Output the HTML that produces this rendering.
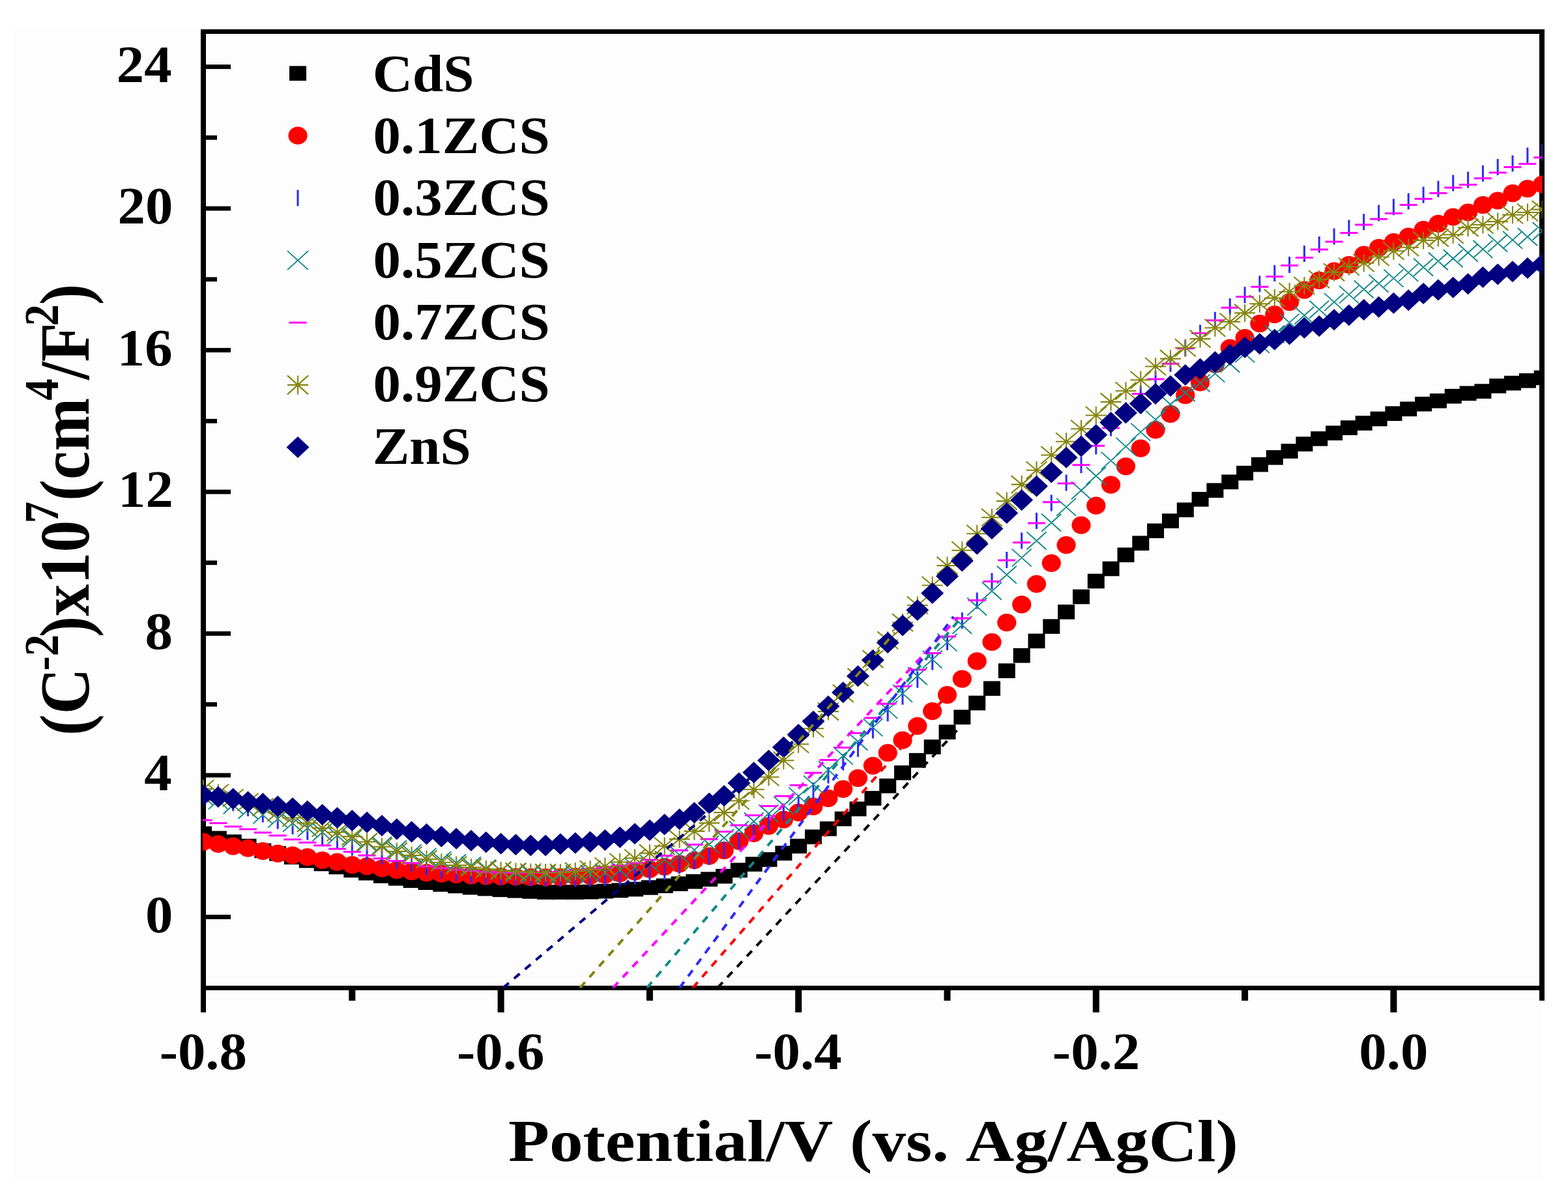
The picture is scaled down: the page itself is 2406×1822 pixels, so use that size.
<!DOCTYPE html>
<html><head><meta charset="utf-8"><title>Mott-Schottky plot</title>
<style>html,body{margin:0;padding:0;background:#fff;}svg{display:block;}text{font-family:'Liberation Serif','Times New Roman',serif;font-weight:bold;font-kerning:none}</style>
</head><body>
<svg xmlns="http://www.w3.org/2000/svg" width="2406" height="1822" viewBox="0 0 2406 1822">
<rect width="2406" height="1822" fill="#fff"/>
<rect x="20" y="44" width="2346" height="1766" fill="#fdfdfd"/>
<defs><clipPath id="pa"><rect x="311" y="48.5" width="2055.5" height="1468"/></clipPath></defs>

<g fill="#000">
<rect x="308" y="45" width="8" height="1509"/>
<rect x="2362" y="45" width="8" height="1491"/>
<rect x="308" y="45" width="2062" height="7"/>
<rect x="308" y="1513" width="2062" height="7"/>
<rect x="316" y="1404.1" width="38" height="6.8"/>
<rect x="316" y="1295.3" width="17" height="6.8"/>
<rect x="316" y="1186.6" width="38" height="6.8"/>
<rect x="316" y="1077.8" width="17" height="6.8"/>
<rect x="316" y="969.1" width="38" height="6.8"/>
<rect x="316" y="860.4" width="17" height="6.8"/>
<rect x="316" y="751.6" width="38" height="6.8"/>
<rect x="316" y="642.9" width="17" height="6.8"/>
<rect x="316" y="534.1" width="38" height="6.8"/>
<rect x="316" y="425.4" width="17" height="6.8"/>
<rect x="316" y="316.6" width="38" height="6.8"/>
<rect x="316" y="207.8" width="17" height="6.8"/>
<rect x="316" y="99.1" width="38" height="6.8"/>
<rect x="535.3" y="1520" width="10" height="16"/>
<rect x="763.6" y="1520" width="10" height="34"/>
<rect x="991.9" y="1520" width="10" height="16"/>
<rect x="1220.2" y="1520" width="10" height="34"/>
<rect x="1448.5" y="1520" width="10" height="16"/>
<rect x="1676.8" y="1520" width="10" height="34"/>
<rect x="1905.1" y="1520" width="10" height="16"/>
<rect x="2133.4" y="1520" width="10" height="34"/>
</g>
<g clip-path="url(#pa)">
<g fill="#000000"><rect x="299.0" y="1268.4" width="26.0" height="22.6"/><rect x="321.8" y="1275.5" width="26.0" height="22.6"/><rect x="344.7" y="1280.9" width="26.0" height="22.6"/><rect x="367.5" y="1287.5" width="26.0" height="22.6"/><rect x="390.3" y="1294.5" width="26.0" height="22.6"/><rect x="413.2" y="1298.9" width="26.0" height="22.6"/><rect x="436.0" y="1304.3" width="26.0" height="22.6"/><rect x="458.8" y="1309.7" width="26.0" height="22.6"/><rect x="481.6" y="1314.6" width="26.0" height="22.6"/><rect x="504.5" y="1319.5" width="26.0" height="22.6"/><rect x="527.3" y="1324.4" width="26.0" height="22.6"/><rect x="550.1" y="1328.8" width="26.0" height="22.6"/><rect x="573.0" y="1333.1" width="26.0" height="22.6"/><rect x="595.8" y="1336.9" width="26.0" height="22.6"/><rect x="618.6" y="1340.3" width="26.0" height="22.6"/><rect x="641.5" y="1343.4" width="26.0" height="22.6"/><rect x="664.3" y="1346.2" width="26.0" height="22.6"/><rect x="687.1" y="1348.6" width="26.0" height="22.6"/><rect x="709.9" y="1350.8" width="26.0" height="22.6"/><rect x="732.8" y="1352.7" width="26.0" height="22.6"/><rect x="755.6" y="1354.3" width="26.0" height="22.6"/><rect x="778.4" y="1355.8" width="26.0" height="22.6"/><rect x="801.3" y="1357.0" width="26.0" height="22.6"/><rect x="824.1" y="1358.1" width="26.0" height="22.6"/><rect x="846.9" y="1358.1" width="26.0" height="22.6"/><rect x="869.8" y="1358.1" width="26.0" height="22.6"/><rect x="892.6" y="1357.7" width="26.0" height="22.6"/><rect x="915.4" y="1356.7" width="26.0" height="22.6"/><rect x="938.2" y="1355.4" width="26.0" height="22.6"/><rect x="961.1" y="1353.6" width="26.0" height="22.6"/><rect x="983.9" y="1351.1" width="26.0" height="22.6"/><rect x="1006.7" y="1348.4" width="26.0" height="22.6"/><rect x="1029.6" y="1345.3" width="26.0" height="22.6"/><rect x="1052.4" y="1341.8" width="26.0" height="22.6"/><rect x="1075.2" y="1338.3" width="26.0" height="22.6"/><rect x="1098.1" y="1333.7" width="26.0" height="22.6"/><rect x="1120.9" y="1324.4" width="26.0" height="22.6"/><rect x="1143.7" y="1315.2" width="26.0" height="22.6"/><rect x="1166.5" y="1308.1" width="26.0" height="22.6"/><rect x="1189.4" y="1298.3" width="26.0" height="22.6"/><rect x="1212.2" y="1287.5" width="26.0" height="22.6"/><rect x="1235.0" y="1273.3" width="26.0" height="22.6"/><rect x="1257.9" y="1260.8" width="26.0" height="22.6"/><rect x="1280.7" y="1245.6" width="26.0" height="22.6"/><rect x="1303.5" y="1230.4" width="26.0" height="22.6"/><rect x="1326.4" y="1214.0" width="26.0" height="22.6"/><rect x="1349.2" y="1195.0" width="26.0" height="22.6"/><rect x="1372.0" y="1174.9" width="26.0" height="22.6"/><rect x="1394.8" y="1155.9" width="26.0" height="22.6"/><rect x="1417.7" y="1135.2" width="26.0" height="22.6"/><rect x="1440.5" y="1112.4" width="26.0" height="22.6"/><rect x="1463.3" y="1089.5" width="26.0" height="22.6"/><rect x="1486.2" y="1067.8" width="26.0" height="22.6"/><rect x="1509.0" y="1045.5" width="26.0" height="22.6"/><rect x="1531.8" y="1018.3" width="26.0" height="22.6"/><rect x="1554.7" y="994.9" width="26.0" height="22.6"/><rect x="1577.5" y="972.6" width="26.0" height="22.6"/><rect x="1600.3" y="950.3" width="26.0" height="22.6"/><rect x="1623.1" y="928.0" width="26.0" height="22.6"/><rect x="1646.0" y="904.7" width="26.0" height="22.6"/><rect x="1668.8" y="880.7" width="26.0" height="22.6"/><rect x="1691.6" y="861.7" width="26.0" height="22.6"/><rect x="1714.5" y="840.5" width="26.0" height="22.6"/><rect x="1737.3" y="822.5" width="26.0" height="22.6"/><rect x="1760.1" y="803.5" width="26.0" height="22.6"/><rect x="1783.0" y="788.3" width="26.0" height="22.6"/><rect x="1805.8" y="771.4" width="26.0" height="22.6"/><rect x="1828.6" y="755.1" width="26.0" height="22.6"/><rect x="1851.4" y="741.5" width="26.0" height="22.6"/><rect x="1874.3" y="728.5" width="26.0" height="22.6"/><rect x="1897.1" y="714.9" width="26.0" height="22.6"/><rect x="1919.9" y="701.8" width="26.0" height="22.6"/><rect x="1942.8" y="691.0" width="26.0" height="22.6"/><rect x="1965.6" y="681.2" width="26.0" height="22.6"/><rect x="1988.4" y="670.3" width="26.0" height="22.6"/><rect x="2011.2" y="662.1" width="26.0" height="22.6"/><rect x="2034.1" y="653.4" width="26.0" height="22.6"/><rect x="2056.9" y="645.3" width="26.0" height="22.6"/><rect x="2079.7" y="638.2" width="26.0" height="22.6"/><rect x="2102.6" y="631.7" width="26.0" height="22.6"/><rect x="2125.4" y="623.5" width="26.0" height="22.6"/><rect x="2148.2" y="616.5" width="26.0" height="22.6"/><rect x="2171.1" y="608.9" width="26.0" height="22.6"/><rect x="2193.9" y="604.0" width="26.0" height="22.6"/><rect x="2216.7" y="596.9" width="26.0" height="22.6"/><rect x="2239.6" y="592.5" width="26.0" height="22.6"/><rect x="2262.4" y="589.3" width="26.0" height="22.6"/><rect x="2285.2" y="581.1" width="26.0" height="22.6"/><rect x="2308.0" y="576.8" width="26.0" height="22.6"/><rect x="2330.9" y="573.0" width="26.0" height="22.6"/><rect x="2353.7" y="568.6" width="26.0" height="22.6"/></g>
<g fill="#ff0000"><ellipse cx="312.0" cy="1292.2" rx="14.6" ry="13.6"/><ellipse cx="334.8" cy="1295.5" rx="14.6" ry="13.6"/><ellipse cx="357.7" cy="1298.8" rx="14.6" ry="13.6"/><ellipse cx="380.5" cy="1302.0" rx="14.6" ry="13.6"/><ellipse cx="403.3" cy="1306.4" rx="14.6" ry="13.6"/><ellipse cx="426.2" cy="1310.2" rx="14.6" ry="13.6"/><ellipse cx="449.0" cy="1312.9" rx="14.6" ry="13.6"/><ellipse cx="471.8" cy="1315.6" rx="14.6" ry="13.6"/><ellipse cx="494.6" cy="1320.5" rx="14.6" ry="13.6"/><ellipse cx="517.5" cy="1323.2" rx="14.6" ry="13.6"/><ellipse cx="540.3" cy="1327.6" rx="14.6" ry="13.6"/><ellipse cx="563.1" cy="1329.7" rx="14.6" ry="13.6"/><ellipse cx="586.0" cy="1333.0" rx="14.6" ry="13.6"/><ellipse cx="608.8" cy="1335.5" rx="14.6" ry="13.6"/><ellipse cx="631.6" cy="1337.7" rx="14.6" ry="13.6"/><ellipse cx="654.5" cy="1339.6" rx="14.6" ry="13.6"/><ellipse cx="677.3" cy="1341.2" rx="14.6" ry="13.6"/><ellipse cx="700.1" cy="1342.5" rx="14.6" ry="13.6"/><ellipse cx="722.9" cy="1343.8" rx="14.6" ry="13.6"/><ellipse cx="745.8" cy="1344.8" rx="14.6" ry="13.6"/><ellipse cx="768.6" cy="1345.5" rx="14.6" ry="13.6"/><ellipse cx="791.4" cy="1346.0" rx="14.6" ry="13.6"/><ellipse cx="814.3" cy="1346.4" rx="14.6" ry="13.6"/><ellipse cx="837.1" cy="1346.6" rx="14.6" ry="13.6"/><ellipse cx="859.9" cy="1346.3" rx="14.6" ry="13.6"/><ellipse cx="882.8" cy="1345.5" rx="14.6" ry="13.6"/><ellipse cx="905.6" cy="1344.4" rx="14.6" ry="13.6"/><ellipse cx="928.4" cy="1342.9" rx="14.6" ry="13.6"/><ellipse cx="951.2" cy="1340.6" rx="14.6" ry="13.6"/><ellipse cx="974.1" cy="1337.8" rx="14.6" ry="13.6"/><ellipse cx="996.9" cy="1334.2" rx="14.6" ry="13.6"/><ellipse cx="1019.7" cy="1330.3" rx="14.6" ry="13.6"/><ellipse cx="1042.6" cy="1325.9" rx="14.6" ry="13.6"/><ellipse cx="1065.4" cy="1320.5" rx="14.6" ry="13.6"/><ellipse cx="1088.2" cy="1314.0" rx="14.6" ry="13.6"/><ellipse cx="1111.1" cy="1305.3" rx="14.6" ry="13.6"/><ellipse cx="1133.9" cy="1291.1" rx="14.6" ry="13.6"/><ellipse cx="1156.7" cy="1279.2" rx="14.6" ry="13.6"/><ellipse cx="1179.5" cy="1267.8" rx="14.6" ry="13.6"/><ellipse cx="1202.4" cy="1258.0" rx="14.6" ry="13.6"/><ellipse cx="1225.2" cy="1247.1" rx="14.6" ry="13.6"/><ellipse cx="1248.0" cy="1237.8" rx="14.6" ry="13.6"/><ellipse cx="1270.9" cy="1225.3" rx="14.6" ry="13.6"/><ellipse cx="1293.7" cy="1211.2" rx="14.6" ry="13.6"/><ellipse cx="1316.5" cy="1194.3" rx="14.6" ry="13.6"/><ellipse cx="1339.4" cy="1175.3" rx="14.6" ry="13.6"/><ellipse cx="1362.2" cy="1155.7" rx="14.6" ry="13.6"/><ellipse cx="1385.0" cy="1136.2" rx="14.6" ry="13.6"/><ellipse cx="1407.8" cy="1114.4" rx="14.6" ry="13.6"/><ellipse cx="1430.7" cy="1091.6" rx="14.6" ry="13.6"/><ellipse cx="1453.5" cy="1066.6" rx="14.6" ry="13.6"/><ellipse cx="1476.3" cy="1042.1" rx="14.6" ry="13.6"/><ellipse cx="1499.2" cy="1014.9" rx="14.6" ry="13.6"/><ellipse cx="1522.0" cy="985.5" rx="14.6" ry="13.6"/><ellipse cx="1544.8" cy="955.6" rx="14.6" ry="13.6"/><ellipse cx="1567.7" cy="927.9" rx="14.6" ry="13.6"/><ellipse cx="1590.5" cy="896.4" rx="14.6" ry="13.6"/><ellipse cx="1613.3" cy="864.3" rx="14.6" ry="13.6"/><ellipse cx="1636.1" cy="836.6" rx="14.6" ry="13.6"/><ellipse cx="1659.0" cy="806.1" rx="14.6" ry="13.6"/><ellipse cx="1681.8" cy="776.2" rx="14.6" ry="13.6"/><ellipse cx="1704.6" cy="744.1" rx="14.6" ry="13.6"/><ellipse cx="1727.5" cy="715.8" rx="14.6" ry="13.6"/><ellipse cx="1750.3" cy="688.1" rx="14.6" ry="13.6"/><ellipse cx="1773.1" cy="659.8" rx="14.6" ry="13.6"/><ellipse cx="1796.0" cy="635.4" rx="14.6" ry="13.6"/><ellipse cx="1818.8" cy="606.6" rx="14.6" ry="13.6"/><ellipse cx="1841.6" cy="587.0" rx="14.6" ry="13.6"/><ellipse cx="1864.4" cy="559.2" rx="14.6" ry="13.6"/><ellipse cx="1887.3" cy="534.2" rx="14.6" ry="13.6"/><ellipse cx="1910.1" cy="518.5" rx="14.6" ry="13.6"/><ellipse cx="1932.9" cy="496.7" rx="14.6" ry="13.6"/><ellipse cx="1955.8" cy="482.6" rx="14.6" ry="13.6"/><ellipse cx="1978.6" cy="463.6" rx="14.6" ry="13.6"/><ellipse cx="2001.4" cy="445.1" rx="14.6" ry="13.6"/><ellipse cx="2024.2" cy="430.4" rx="14.6" ry="13.6"/><ellipse cx="2047.1" cy="416.2" rx="14.6" ry="13.6"/><ellipse cx="2069.9" cy="406.5" rx="14.6" ry="13.6"/><ellipse cx="2092.7" cy="391.2" rx="14.6" ry="13.6"/><ellipse cx="2115.6" cy="380.4" rx="14.6" ry="13.6"/><ellipse cx="2138.4" cy="371.7" rx="14.6" ry="13.6"/><ellipse cx="2161.2" cy="363.0" rx="14.6" ry="13.6"/><ellipse cx="2184.1" cy="352.6" rx="14.6" ry="13.6"/><ellipse cx="2206.9" cy="343.4" rx="14.6" ry="13.6"/><ellipse cx="2229.7" cy="333.0" rx="14.6" ry="13.6"/><ellipse cx="2252.6" cy="326.0" rx="14.6" ry="13.6"/><ellipse cx="2275.4" cy="314.6" rx="14.6" ry="13.6"/><ellipse cx="2298.2" cy="308.0" rx="14.6" ry="13.6"/><ellipse cx="2321.0" cy="296.6" rx="14.6" ry="13.6"/><ellipse cx="2343.9" cy="289.6" rx="14.6" ry="13.6"/><ellipse cx="2366.7" cy="283.0" rx="14.6" ry="13.6"/></g>
<path fill="none" stroke="#2a2aff" stroke-width="3" d="M312.0 1207.4v25.0M334.8 1212.8v25.0M357.7 1219.9v25.0M380.5 1228.1v25.0M403.3 1237.3v25.0M426.2 1247.6v25.0M449.0 1255.8v25.0M471.8 1264.5v25.0M494.6 1272.1v25.0M517.5 1278.1v25.0M540.3 1288.4v25.0M563.1 1295.5v25.0M586.0 1302.0v25.0M608.8 1308.5v25.0M631.6 1312.9v25.0M654.5 1318.3v25.0M677.3 1323.2v25.0M700.1 1327.6v25.0M722.9 1330.8v25.0M745.8 1332.5v25.0M768.6 1333.6v25.0M791.4 1334.5v25.0M814.3 1335.2v25.0M837.1 1335.7v25.0M859.9 1336.1v25.0M882.8 1336.3v25.0M905.6 1335.9v25.0M928.4 1335.1v25.0M951.2 1334.1v25.0M974.1 1332.5v25.0M996.9 1329.7v25.0M1019.7 1325.4v25.0M1042.6 1316.2v25.0M1065.4 1309.5v25.0M1088.2 1302.6v25.0M1111.1 1291.7v25.0M1133.9 1278.7v25.0M1156.7 1264.5v25.0M1179.5 1249.6v25.0M1202.4 1234.6v25.0M1225.2 1220.5v25.0M1248.0 1200.9v25.0M1270.9 1177.5v25.0M1293.7 1157.4v25.0M1316.5 1136.7v25.0M1339.4 1108.4v25.0M1362.2 1082.3v25.0M1385.0 1056.8v25.0M1407.8 1030.7v25.0M1430.7 1003.5v25.0M1453.5 973.0v25.0M1476.3 939.9v25.0M1499.2 909.4v25.0M1522.0 879.5v25.0M1544.8 846.9v25.0M1567.7 817.5v25.0M1590.5 787.1v25.0M1613.3 759.4v25.0M1636.1 728.4v25.0M1659.0 701.2v25.0M1681.8 672.4v25.0M1704.6 644.6v25.0M1727.5 617.4v25.0M1750.3 591.9v25.0M1773.1 569.6v25.0M1796.0 545.7v25.0M1818.8 522.3v25.0M1841.6 498.4v25.0M1864.4 478.8v25.0M1887.3 458.1v25.0M1910.1 440.2v25.0M1932.9 423.3v25.0M1955.8 407.0v25.0M1978.6 394.0v25.0M2001.4 377.1v25.0M2024.2 363.0v25.0M2047.1 350.5v25.0M2069.9 337.4v25.0M2092.7 328.2v25.0M2115.6 314.6v25.0M2138.4 305.3v25.0M2161.2 296.6v25.0M2184.1 286.8v25.0M2206.9 277.6v25.0M2229.7 268.4v25.0M2252.6 263.5v25.0M2275.4 253.7v25.0M2298.2 243.9v25.0M2321.0 238.4v25.0M2343.9 226.5v25.0M2366.7 221.6v25.0"/>
<path fill="none" stroke="#118888" stroke-width="1.9" d="M297.0 1209.1l30 27M297.0 1236.1l30 -27M319.8 1215.1l30 27M319.8 1242.1l30 -27M342.7 1222.2l30 27M342.7 1249.2l30 -27M365.5 1229.8l30 27M365.5 1256.8l30 -27M388.3 1237.4l30 27M388.3 1264.4l30 -27M411.2 1243.4l30 27M411.2 1270.4l30 -27M434.0 1249.9l30 27M434.0 1276.9l30 -27M456.8 1257.5l30 27M456.8 1284.5l30 -27M479.6 1264.0l30 27M479.6 1291.0l30 -27M502.5 1268.9l30 27M502.5 1295.9l30 -27M525.3 1273.8l30 27M525.3 1300.8l30 -27M548.1 1279.8l30 27M548.1 1306.8l30 -27M571.0 1284.2l30 27M571.0 1311.2l30 -27M593.8 1290.0l30 27M593.8 1317.0l30 -27M616.6 1296.1l30 27M616.6 1323.1l30 -27M639.5 1301.8l30 27M639.5 1328.8l30 -27M662.3 1307.0l30 27M662.3 1334.0l30 -27M685.1 1311.2l30 27M685.1 1338.2l30 -27M707.9 1315.2l30 27M707.9 1342.2l30 -27M730.8 1319.5l30 27M730.8 1346.5l30 -27M753.6 1323.3l30 27M753.6 1350.3l30 -27M776.4 1326.0l30 27M776.4 1353.0l30 -27M799.3 1327.7l30 27M799.3 1354.7l30 -27M822.1 1328.4l30 27M822.1 1355.4l30 -27M844.9 1328.8l30 27M844.9 1355.8l30 -27M867.8 1328.4l30 27M867.8 1355.4l30 -27M890.6 1327.7l30 27M890.6 1354.7l30 -27M913.4 1325.6l30 27M913.4 1352.6l30 -27M936.2 1322.2l30 27M936.2 1349.2l30 -27M959.1 1317.9l30 27M959.1 1344.9l30 -27M981.9 1312.4l30 27M981.9 1339.4l30 -27M1004.7 1306.1l30 27M1004.7 1333.1l30 -27M1027.6 1298.8l30 27M1027.6 1325.8l30 -27M1050.4 1291.1l30 27M1050.4 1318.1l30 -27M1073.2 1282.5l30 27M1073.2 1309.5l30 -27M1096.1 1272.7l30 27M1096.1 1299.7l30 -27M1118.9 1260.2l30 27M1118.9 1287.2l30 -27M1141.7 1247.2l30 27M1141.7 1274.2l30 -27M1164.5 1235.2l30 27M1164.5 1262.2l30 -27M1187.4 1222.7l30 27M1187.4 1249.7l30 -27M1210.2 1208.6l30 27M1210.2 1235.6l30 -27M1233.0 1190.6l30 27M1233.0 1217.6l30 -27M1255.9 1168.3l30 27M1255.9 1195.3l30 -27M1278.7 1146.6l30 27M1278.7 1173.6l30 -27M1301.5 1124.8l30 27M1301.5 1151.8l30 -27M1324.4 1103.1l30 27M1324.4 1130.1l30 -27M1347.2 1075.9l30 27M1347.2 1102.9l30 -27M1370.0 1050.9l30 27M1370.0 1077.9l30 -27M1392.8 1024.2l30 27M1392.8 1051.2l30 -27M1415.7 998.7l30 27M1415.7 1025.7l30 -27M1438.5 972.6l30 27M1438.5 999.6l30 -27M1461.3 946.0l30 27M1461.3 973.0l30 -27M1484.2 917.7l30 27M1484.2 944.7l30 -27M1507.0 893.8l30 27M1507.0 920.8l30 -27M1529.8 868.7l30 27M1529.8 895.7l30 -27M1552.7 842.6l30 27M1552.7 869.6l30 -27M1575.5 816.5l30 27M1575.5 843.5l30 -27M1598.3 788.8l30 27M1598.3 815.8l30 -27M1621.1 764.9l30 27M1621.1 791.9l30 -27M1644.0 739.3l30 27M1644.0 766.3l30 -27M1666.8 717.0l30 27M1666.8 744.0l30 -27M1689.6 693.6l30 27M1689.6 720.6l30 -27M1712.5 671.9l30 27M1712.5 698.9l30 -27M1735.3 649.6l30 27M1735.3 676.6l30 -27M1758.1 630.6l30 27M1758.1 657.6l30 -27M1781.0 607.2l30 27M1781.0 634.2l30 -27M1803.8 589.2l30 27M1803.8 616.2l30 -27M1826.6 574.6l30 27M1826.6 601.6l30 -27M1849.4 559.9l30 27M1849.4 586.9l30 -27M1872.3 544.7l30 27M1872.3 571.7l30 -27M1895.1 529.4l30 27M1895.1 556.4l30 -27M1917.9 514.8l30 27M1917.9 541.8l30 -27M1940.8 499.5l30 27M1940.8 526.5l30 -27M1963.6 481.6l30 27M1963.6 508.6l30 -27M1986.4 470.7l30 27M1986.4 497.7l30 -27M2009.2 461.5l30 27M2009.2 488.5l30 -27M2032.1 450.1l30 27M2032.1 477.1l30 -27M2054.9 438.6l30 27M2054.9 465.6l30 -27M2077.7 430.5l30 27M2077.7 457.5l30 -27M2100.6 421.8l30 27M2100.6 448.8l30 -27M2123.4 413.6l30 27M2123.4 440.6l30 -27M2146.2 404.9l30 27M2146.2 431.9l30 -27M2169.1 396.8l30 27M2169.1 423.8l30 -27M2191.9 387.5l30 27M2191.9 414.5l30 -27M2214.7 383.2l30 27M2214.7 410.2l30 -27M2237.6 374.5l30 27M2237.6 401.5l30 -27M2260.4 369.0l30 27M2260.4 396.0l30 -27M2283.2 359.8l30 27M2283.2 386.8l30 -27M2306.0 354.9l30 27M2306.0 381.9l30 -27M2328.9 350.0l30 27M2328.9 377.0l30 -27M2351.7 341.3l30 27M2351.7 368.3l30 -27"/>
<path fill="none" stroke="#ff00ff" stroke-width="3" d="M298.5 1259.1h27.0M321.3 1263.4h27.0M344.2 1268.8h27.0M367.0 1272.7h27.0M389.8 1278.1h27.0M412.7 1282.4h27.0M435.5 1288.4h27.0M458.3 1293.3h27.0M481.1 1297.7h27.0M504.0 1303.1h27.0M526.8 1307.5h27.0M549.6 1312.9h27.0M572.5 1317.8h27.0M595.3 1321.6h27.0M618.1 1324.8h27.0M641.0 1329.7h27.0M663.8 1332.5h27.0M686.6 1334.8h27.0M709.4 1336.8h27.0M732.3 1338.6h27.0M755.1 1339.5h27.0M777.9 1339.5h27.0M800.8 1339.5h27.0M823.6 1339.5h27.0M846.4 1338.6h27.0M869.2 1336.5h27.0M892.1 1334.1h27.0M914.9 1331.6h27.0M937.7 1328.6h27.0M960.6 1324.8h27.0M983.4 1319.8h27.0M1006.2 1313.4h27.0M1029.1 1305.3h27.0M1051.9 1296.6h27.0M1074.7 1287.9h27.0M1097.6 1276.5h27.0M1120.4 1266.7h27.0M1143.2 1251.4h27.0M1166.0 1237.3h27.0M1188.9 1222.1h27.0M1211.7 1205.2h27.0M1234.5 1186.2h27.0M1257.4 1166.6h27.0M1280.2 1147.6h27.0M1303.0 1125.3h27.0M1325.9 1101.9h27.0M1348.7 1080.2h27.0M1371.5 1053.5h27.0M1394.3 1028.0h27.0M1417.2 1002.4h27.0M1440.0 976.9h27.0M1462.8 949.1h27.0M1485.7 921.4h27.0M1508.5 892.6h27.0M1531.3 859.9h27.0M1554.2 832.8h27.0M1577.0 802.9h27.0M1599.8 770.8h27.0M1622.6 741.9h27.0M1645.5 713.7h27.0M1668.3 684.3h27.0M1691.1 657.1h27.0M1714.0 629.9h27.0M1736.8 604.4h27.0M1759.6 582.1h27.0M1782.5 558.2h27.0M1805.3 534.8h27.0M1828.1 511.4h27.0M1850.9 491.8h27.0M1873.8 472.2h27.0M1896.6 455.4h27.0M1919.4 440.2h27.0M1942.3 424.4h27.0M1965.1 407.5h27.0M1987.9 395.6h27.0M2010.8 383.1h27.0M2033.6 371.1h27.0M2056.4 357.5h27.0M2079.2 345.0h27.0M2102.1 336.3h27.0M2124.9 327.6h27.0M2147.7 314.6h27.0M2170.6 305.3h27.0M2193.4 296.6h27.0M2216.2 287.9h27.0M2239.1 283.6h27.0M2261.9 273.8h27.0M2284.7 265.1h27.0M2307.5 256.4h27.0M2330.4 251.5h27.0M2353.2 241.7h27.0"/>
<path fill="none" stroke="#858510" stroke-width="2.1" d="M296.0 1210.7h32M312.0 1197.2v27M296.0 1197.2l32 27M296.0 1224.2l32 -27M318.8 1217.2h32M334.8 1203.7v27M318.8 1203.7l32 27M318.8 1230.7l32 -27M341.7 1224.8h32M357.7 1211.3v27M341.7 1211.3l32 27M341.7 1238.3l32 -27M364.5 1231.3h32M380.5 1217.8v27M364.5 1217.8l32 27M364.5 1244.8l32 -27M387.3 1238.9h32M403.3 1225.4v27M387.3 1225.4l32 27M387.3 1252.4l32 -27M410.2 1247.1h32M426.2 1233.6v27M410.2 1233.6l32 27M410.2 1260.6l32 -27M433.0 1255.2h32M449.0 1241.8v27M433.0 1241.8l32 27M433.0 1268.8l32 -27M455.8 1263.4h32M471.8 1249.9v27M455.8 1249.9l32 27M455.8 1276.9l32 -27M478.6 1271.0h32M494.6 1257.5v27M478.6 1257.5l32 27M478.6 1284.5l32 -27M501.5 1277.5h32M517.5 1264.0v27M501.5 1264.0l32 27M501.5 1291.0l32 -27M524.3 1284.1h32M540.3 1270.6v27M524.3 1270.6l32 27M524.3 1297.6l32 -27M547.1 1292.2h32M563.1 1278.7v27M547.1 1278.7l32 27M547.1 1305.7l32 -27M570.0 1299.8h32M586.0 1286.3v27M570.0 1286.3l32 27M570.0 1313.3l32 -27M592.8 1306.9h32M608.8 1293.4v27M592.8 1293.4l32 27M592.8 1320.4l32 -27M615.6 1312.9h32M631.6 1299.4v27M615.6 1299.4l32 27M615.6 1326.4l32 -27M638.5 1318.9h32M654.5 1305.4v27M638.5 1305.4l32 27M638.5 1332.4l32 -27M661.3 1323.8h32M677.3 1310.3v27M661.3 1310.3l32 27M661.3 1337.3l32 -27M684.1 1328.1h32M700.1 1314.6v27M684.1 1314.6l32 27M684.1 1341.6l32 -27M706.9 1331.4h32M722.9 1317.9v27M706.9 1317.9l32 27M706.9 1344.9l32 -27M729.8 1334.1h32M745.8 1320.6v27M729.8 1320.6l32 27M729.8 1347.6l32 -27M752.6 1336.2h32M768.6 1322.7v27M752.6 1322.7l32 27M752.6 1349.7l32 -27M775.4 1337.9h32M791.4 1324.4v27M775.4 1324.4l32 27M775.4 1351.4l32 -27M798.3 1339.0h32M814.3 1325.5v27M798.3 1325.5l32 27M798.3 1352.5l32 -27M821.1 1339.5h32M837.1 1326.0v27M821.1 1326.0l32 27M821.1 1353.0l32 -27M843.9 1339.5h32M859.9 1326.0v27M843.9 1326.0l32 27M843.9 1353.0l32 -27M866.8 1337.4h32M882.8 1323.9v27M866.8 1323.9l32 27M866.8 1350.9l32 -27M889.6 1334.6h32M905.6 1321.1v27M889.6 1321.1l32 27M889.6 1348.1l32 -27M912.4 1329.7h32M928.4 1316.2v27M912.4 1316.2l32 27M912.4 1343.2l32 -27M935.2 1323.2h32M951.2 1309.7v27M935.2 1309.7l32 27M935.2 1336.7l32 -27M958.1 1317.2h32M974.1 1303.7v27M958.1 1303.7l32 27M958.1 1330.7l32 -27M980.9 1309.6h32M996.9 1296.1v27M980.9 1296.1l32 27M980.9 1323.1l32 -27M1003.7 1298.8h32M1019.7 1285.2v27M1003.7 1285.2l32 27M1003.7 1312.2l32 -27M1026.6 1287.9h32M1042.6 1274.4v27M1026.6 1274.4l32 27M1026.6 1301.4l32 -27M1049.4 1275.9h32M1065.4 1262.4v27M1049.4 1262.4l32 27M1049.4 1289.4l32 -27M1072.2 1263.4h32M1088.2 1249.9v27M1072.2 1249.9l32 27M1072.2 1276.9l32 -27M1095.1 1247.1h32M1111.1 1233.6v27M1095.1 1233.6l32 27M1095.1 1260.6l32 -27M1117.9 1229.2h32M1133.9 1215.7v27M1117.9 1215.7l32 27M1117.9 1242.7l32 -27M1140.7 1211.8h32M1156.7 1198.2v27M1140.7 1198.2l32 27M1140.7 1225.2l32 -27M1163.5 1192.7h32M1179.5 1179.2v27M1163.5 1179.2l32 27M1163.5 1206.2l32 -27M1186.4 1167.2h32M1202.4 1153.7v27M1186.4 1153.7l32 27M1186.4 1180.7l32 -27M1209.2 1142.2h32M1225.2 1128.7v27M1209.2 1128.7l32 27M1209.2 1155.7l32 -27M1232.0 1118.2h32M1248.0 1104.7v27M1232.0 1104.7l32 27M1232.0 1131.7l32 -27M1254.9 1092.1h32M1270.9 1078.6v27M1254.9 1078.6l32 27M1254.9 1105.6l32 -27M1277.7 1064.4h32M1293.7 1050.9v27M1277.7 1050.9l32 27M1277.7 1077.9l32 -27M1300.5 1039.4h32M1316.5 1025.9v27M1300.5 1025.9l32 27M1300.5 1052.9l32 -27M1323.4 1011.6h32M1339.4 998.1v27M1323.4 998.1l32 27M1323.4 1025.2l32 -27M1346.2 982.8h32M1362.2 969.3v27M1346.2 969.3l32 27M1346.2 996.3l32 -27M1369.0 955.6h32M1385.0 942.1v27M1369.0 942.1l32 27M1369.0 969.1l32 -27M1391.8 929.0h32M1407.8 915.5v27M1391.8 915.5l32 27M1391.8 942.5l32 -27M1414.7 898.5h32M1430.7 885.0v27M1414.7 885.0l32 27M1414.7 912.0l32 -27M1437.5 868.1h32M1453.5 854.6v27M1437.5 854.6l32 27M1437.5 881.6l32 -27M1460.3 844.7h32M1476.3 831.2v27M1460.3 831.2l32 27M1460.3 858.2l32 -27M1483.2 819.2h32M1499.2 805.7v27M1483.2 805.7l32 27M1483.2 832.7l32 -27M1506.0 794.2h32M1522.0 780.7v27M1506.0 780.7l32 27M1506.0 807.7l32 -27M1528.8 769.1h32M1544.8 755.6v27M1528.8 755.6l32 27M1528.8 782.6l32 -27M1551.7 743.6h32M1567.7 730.1v27M1551.7 730.1l32 27M1551.7 757.1l32 -27M1574.5 721.8h32M1590.5 708.3v27M1574.5 708.3l32 27M1574.5 735.3l32 -27M1597.3 698.5h32M1613.3 685.0v27M1597.3 685.0l32 27M1597.3 712.0l32 -27M1620.1 677.8h32M1636.1 664.3v27M1620.1 664.3l32 27M1620.1 691.3l32 -27M1643.0 658.2h32M1659.0 644.7v27M1643.0 644.7l32 27M1643.0 671.7l32 -27M1665.8 637.5h32M1681.8 624.0v27M1665.8 624.0l32 27M1665.8 651.0l32 -27M1688.6 616.9h32M1704.6 603.4v27M1688.6 603.4l32 27M1688.6 630.4l32 -27M1711.5 600.0h32M1727.5 586.5v27M1711.5 586.5l32 27M1711.5 613.5l32 -27M1734.3 583.2h32M1750.3 569.7v27M1734.3 569.7l32 27M1734.3 596.7l32 -27M1757.1 562.5h32M1773.1 549.0v27M1757.1 549.0l32 27M1757.1 576.0l32 -27M1780.0 550.6h32M1796.0 537.1v27M1780.0 537.1l32 27M1780.0 564.1l32 -27M1802.8 533.7h32M1818.8 520.2v27M1802.8 520.2l32 27M1802.8 547.2l32 -27M1825.6 520.1h32M1841.6 506.6v27M1825.6 506.6l32 27M1825.6 533.6l32 -27M1848.4 503.2h32M1864.4 489.7v27M1848.4 489.7l32 27M1848.4 516.7l32 -27M1871.3 494.0h32M1887.3 480.5v27M1871.3 480.5l32 27M1871.3 507.5l32 -27M1894.1 480.4h32M1910.1 466.9v27M1894.1 466.9l32 27M1894.1 493.9l32 -27M1916.9 466.3h32M1932.9 452.8v27M1916.9 452.8l32 27M1916.9 479.8l32 -27M1939.8 457.6h32M1955.8 444.1v27M1939.8 444.1l32 27M1939.8 471.1l32 -27M1962.6 447.8h32M1978.6 434.3v27M1962.6 434.3l32 27M1962.6 461.3l32 -27M1985.4 438.5h32M2001.4 425.0v27M1985.4 425.0l32 27M1985.4 452.0l32 -27M2008.2 428.8h32M2024.2 415.2v27M2008.2 415.2l32 27M2008.2 442.2l32 -27M2031.1 417.9h32M2047.1 404.4v27M2031.1 404.4l32 27M2031.1 431.4l32 -27M2053.9 409.2h32M2069.9 395.7v27M2053.9 395.7l32 27M2053.9 422.7l32 -27M2076.7 403.7h32M2092.7 390.2v27M2076.7 390.2l32 27M2076.7 417.2l32 -27M2099.6 394.5h32M2115.6 381.0v27M2099.6 381.0l32 27M2099.6 408.0l32 -27M2122.4 385.2h32M2138.4 371.8v27M2122.4 371.8l32 27M2122.4 398.8l32 -27M2145.2 379.8h32M2161.2 366.3v27M2145.2 366.3l32 27M2145.2 393.3l32 -27M2168.1 368.9h32M2184.1 355.4v27M2168.1 355.4l32 27M2168.1 382.4l32 -27M2190.9 365.1h32M2206.9 351.6v27M2190.9 351.6l32 27M2190.9 378.6l32 -27M2213.7 360.2h32M2229.7 346.7v27M2213.7 346.7l32 27M2213.7 373.7l32 -27M2236.6 349.4h32M2252.6 335.9v27M2236.6 335.9l32 27M2236.6 362.9l32 -27M2259.4 345.0h32M2275.4 331.5v27M2259.4 331.5l32 27M2259.4 358.5l32 -27M2282.2 340.1h32M2298.2 326.6v27M2282.2 326.6l32 27M2282.2 353.6l32 -27M2305.0 329.8h32M2321.0 316.3v27M2305.0 316.3l32 27M2305.0 343.3l32 -27M2327.9 326.0h32M2343.9 312.5v27M2327.9 312.5l32 27M2327.9 339.5l32 -27M2350.7 321.6h32M2366.7 308.1v27M2350.7 308.1l32 27M2350.7 335.1l32 -27"/>
<path fill="#000080" d="M312.0 1204.0l17.5 16.5l-17.5 16.5l-17.5 -16.5zM334.8 1206.7l17.5 16.5l-17.5 16.5l-17.5 -16.5zM357.7 1209.4l17.5 16.5l-17.5 16.5l-17.5 -16.5zM380.5 1214.3l17.5 16.5l-17.5 16.5l-17.5 -16.5zM403.3 1217.0l17.5 16.5l-17.5 16.5l-17.5 -16.5zM426.2 1221.3l17.5 16.5l-17.5 16.5l-17.5 -16.5zM449.0 1224.1l17.5 16.5l-17.5 16.5l-17.5 -16.5zM471.8 1228.4l17.5 16.5l-17.5 16.5l-17.5 -16.5zM494.6 1233.9l17.5 16.5l-17.5 16.5l-17.5 -16.5zM517.5 1238.8l17.5 16.5l-17.5 16.5l-17.5 -16.5zM540.3 1243.1l17.5 16.5l-17.5 16.5l-17.5 -16.5zM563.1 1245.8l17.5 16.5l-17.5 16.5l-17.5 -16.5zM586.0 1250.7l17.5 16.5l-17.5 16.5l-17.5 -16.5zM608.8 1256.2l17.5 16.5l-17.5 16.5l-17.5 -16.5zM631.6 1260.2l17.5 16.5l-17.5 16.5l-17.5 -16.5zM654.5 1263.8l17.5 16.5l-17.5 16.5l-17.5 -16.5zM677.3 1267.4l17.5 16.5l-17.5 16.5l-17.5 -16.5zM700.1 1270.8l17.5 16.5l-17.5 16.5l-17.5 -16.5zM722.9 1273.8l17.5 16.5l-17.5 16.5l-17.5 -16.5zM745.8 1276.3l17.5 16.5l-17.5 16.5l-17.5 -16.5zM768.6 1278.4l17.5 16.5l-17.5 16.5l-17.5 -16.5zM791.4 1280.1l17.5 16.5l-17.5 16.5l-17.5 -16.5zM814.3 1281.2l17.5 16.5l-17.5 16.5l-17.5 -16.5zM837.1 1281.2l17.5 16.5l-17.5 16.5l-17.5 -16.5zM859.9 1279.0l17.5 16.5l-17.5 16.5l-17.5 -16.5zM882.8 1277.4l17.5 16.5l-17.5 16.5l-17.5 -16.5zM905.6 1275.7l17.5 16.5l-17.5 16.5l-17.5 -16.5zM928.4 1273.0l17.5 16.5l-17.5 16.5l-17.5 -16.5zM951.2 1268.7l17.5 16.5l-17.5 16.5l-17.5 -16.5zM974.1 1263.2l17.5 16.5l-17.5 16.5l-17.5 -16.5zM996.9 1257.8l17.5 16.5l-17.5 16.5l-17.5 -16.5zM1019.7 1249.1l17.5 16.5l-17.5 16.5l-17.5 -16.5zM1042.6 1240.9l17.5 16.5l-17.5 16.5l-17.5 -16.5zM1065.4 1231.1l17.5 16.5l-17.5 16.5l-17.5 -16.5zM1088.2 1216.5l17.5 16.5l-17.5 16.5l-17.5 -16.5zM1111.1 1205.0l17.5 16.5l-17.5 16.5l-17.5 -16.5zM1133.9 1185.5l17.5 16.5l-17.5 16.5l-17.5 -16.5zM1156.7 1169.2l17.5 16.5l-17.5 16.5l-17.5 -16.5zM1179.5 1150.7l17.5 16.5l-17.5 16.5l-17.5 -16.5zM1202.4 1130.5l17.5 16.5l-17.5 16.5l-17.5 -16.5zM1225.2 1111.0l17.5 16.5l-17.5 16.5l-17.5 -16.5zM1248.0 1090.8l17.5 16.5l-17.5 16.5l-17.5 -16.5zM1270.9 1067.5l17.5 16.5l-17.5 16.5l-17.5 -16.5zM1293.7 1046.3l17.5 16.5l-17.5 16.5l-17.5 -16.5zM1316.5 1021.2l17.5 16.5l-17.5 16.5l-17.5 -16.5zM1339.4 996.8l17.5 16.5l-17.5 16.5l-17.5 -16.5zM1362.2 970.1l17.5 16.5l-17.5 16.5l-17.5 -16.5zM1385.0 943.5l17.5 16.5l-17.5 16.5l-17.5 -16.5zM1407.8 920.1l17.5 16.5l-17.5 16.5l-17.5 -16.5zM1430.7 894.0l17.5 16.5l-17.5 16.5l-17.5 -16.5zM1453.5 867.9l17.5 16.5l-17.5 16.5l-17.5 -16.5zM1476.3 844.5l17.5 16.5l-17.5 16.5l-17.5 -16.5zM1499.2 818.4l17.5 16.5l-17.5 16.5l-17.5 -16.5zM1522.0 795.0l17.5 16.5l-17.5 16.5l-17.5 -16.5zM1544.8 771.1l17.5 16.5l-17.5 16.5l-17.5 -16.5zM1567.7 751.0l17.5 16.5l-17.5 16.5l-17.5 -16.5zM1590.5 729.8l17.5 16.5l-17.5 16.5l-17.5 -16.5zM1613.3 708.6l17.5 16.5l-17.5 16.5l-17.5 -16.5zM1636.1 685.8l17.5 16.5l-17.5 16.5l-17.5 -16.5zM1659.0 668.4l17.5 16.5l-17.5 16.5l-17.5 -16.5zM1681.8 651.0l17.5 16.5l-17.5 16.5l-17.5 -16.5zM1704.6 631.9l17.5 16.5l-17.5 16.5l-17.5 -16.5zM1727.5 617.2l17.5 16.5l-17.5 16.5l-17.5 -16.5zM1750.3 603.1l17.5 16.5l-17.5 16.5l-17.5 -16.5zM1773.1 587.9l17.5 16.5l-17.5 16.5l-17.5 -16.5zM1796.0 575.9l17.5 16.5l-17.5 16.5l-17.5 -16.5zM1818.8 559.1l17.5 16.5l-17.5 16.5l-17.5 -16.5zM1841.6 549.8l17.5 16.5l-17.5 16.5l-17.5 -16.5zM1864.4 538.9l17.5 16.5l-17.5 16.5l-17.5 -16.5zM1887.3 528.1l17.5 16.5l-17.5 16.5l-17.5 -16.5zM1910.1 516.7l17.5 16.5l-17.5 16.5l-17.5 -16.5zM1932.9 511.2l17.5 16.5l-17.5 16.5l-17.5 -16.5zM1955.8 504.7l17.5 16.5l-17.5 16.5l-17.5 -16.5zM1978.6 496.5l17.5 16.5l-17.5 16.5l-17.5 -16.5zM2001.4 486.7l17.5 16.5l-17.5 16.5l-17.5 -16.5zM2024.2 484.0l17.5 16.5l-17.5 16.5l-17.5 -16.5zM2047.1 474.2l17.5 16.5l-17.5 16.5l-17.5 -16.5zM2069.9 467.2l17.5 16.5l-17.5 16.5l-17.5 -16.5zM2092.7 459.0l17.5 16.5l-17.5 16.5l-17.5 -16.5zM2115.6 454.7l17.5 16.5l-17.5 16.5l-17.5 -16.5zM2138.4 448.7l17.5 16.5l-17.5 16.5l-17.5 -16.5zM2161.2 444.3l17.5 16.5l-17.5 16.5l-17.5 -16.5zM2184.1 434.0l17.5 16.5l-17.5 16.5l-17.5 -16.5zM2206.9 428.6l17.5 16.5l-17.5 16.5l-17.5 -16.5zM2229.7 424.8l17.5 16.5l-17.5 16.5l-17.5 -16.5zM2252.6 419.3l17.5 16.5l-17.5 16.5l-17.5 -16.5zM2275.4 409.0l17.5 16.5l-17.5 16.5l-17.5 -16.5zM2298.2 404.6l17.5 16.5l-17.5 16.5l-17.5 -16.5zM2321.0 400.3l17.5 16.5l-17.5 16.5l-17.5 -16.5zM2343.9 394.9l17.5 16.5l-17.5 16.5l-17.5 -16.5zM2366.7 388.9l17.5 16.5l-17.5 16.5l-17.5 -16.5z"/>
<line x1="772.0" y1="1516.3" x2="1290" y2="1076.0" stroke="#000080" stroke-width="4" stroke-dasharray="11.5 10.5"/>
<line x1="890.0" y1="1516.3" x2="1373" y2="971.0" stroke="#858510" stroke-width="4" stroke-dasharray="11.5 10.5"/>
<line x1="940.5" y1="1516.3" x2="1470.2" y2="947.7" stroke="#ff00ff" stroke-width="4" stroke-dasharray="11.5 10.5"/>
<line x1="992.8" y1="1516.3" x2="1475.7" y2="947.0" stroke="#118888" stroke-width="4" stroke-dasharray="11.5 10.5"/>
<line x1="1042.8" y1="1516.3" x2="1462.7" y2="946.9" stroke="#2a2aff" stroke-width="4" stroke-dasharray="11.5 10.5"/>
<line x1="1063.0" y1="1516.3" x2="1471" y2="1046.3" stroke="#ff0000" stroke-width="4" stroke-dasharray="11.5 10.5"/>
<line x1="1101.0" y1="1516.3" x2="1471" y2="1118.3" stroke="#000000" stroke-width="4" stroke-dasharray="11.5 10.5"/>
</g>
<text transform="matrix(1.0680 0 0 1 222.98 1430.90)" font-size="79.5">0</text>
<text transform="matrix(1.0680 0 0 1 221.32 1213.40)" font-size="79.5">4</text>
<text transform="matrix(1.0680 0 0 1 222.57 995.90)" font-size="79.5">8</text>
<text transform="matrix(1.0680 0 0 1 180.94 778.40)" font-size="79.5">12</text>
<text transform="matrix(1.0680 0 0 1 179.78 560.90)" font-size="79.5">16</text>
<text transform="matrix(1.0680 0 0 1 180.53 343.40)" font-size="79.5">20</text>
<text transform="matrix(1.0680 0 0 1 178.87 125.90)" font-size="79.5">24</text>
<text transform="matrix(1.0680 0 0 1 244.65 1641.00)" font-size="79.5">-0.8</text>
<text transform="matrix(1.0680 0 0 1 701.09 1641.00)" font-size="79.5">-0.6</text>
<text transform="matrix(1.0680 0 0 1 1157.23 1641.00)" font-size="79.5">-0.4</text>
<text transform="matrix(1.0680 0 0 1 1614.87 1641.00)" font-size="79.5">-0.2</text>
<text transform="matrix(1.0680 0 0 1 2085.33 1641.00)" font-size="79.5">0.0</text>
<text transform="matrix(1.0680 0 0 1 571.65 139.50)" font-size="79.5">CdS</text>
<text transform="matrix(1.0680 0 0 1 572.57 234.87)" font-size="79.5">0.1ZCS</text>
<text transform="matrix(1.0680 0 0 1 572.57 330.24)" font-size="79.5">0.3ZCS</text>
<text transform="matrix(1.0680 0 0 1 572.57 425.61)" font-size="79.5">0.5ZCS</text>
<text transform="matrix(1.0680 0 0 1 572.57 520.98)" font-size="79.5">0.7ZCS</text>
<text transform="matrix(1.0680 0 0 1 572.57 616.35)" font-size="79.5">0.9ZCS</text>
<text transform="matrix(1.0680 0 0 1 571.74 711.72)" font-size="79.5">ZnS</text>
<g fill="#000000"><rect x="444.0" y="101.3" width="26.0" height="22.6"/></g>
<g fill="#ff0000"><ellipse cx="457.0" cy="208.2" rx="14.6" ry="13.6"/></g>
<path fill="none" stroke="#2a2aff" stroke-width="3" d="M457.0 291.4v25.0"/>
<path fill="none" stroke="#118888" stroke-width="1.9" d="M441.0 385.1l32 29M441.0 414.1l32 -29"/>
<path fill="none" stroke="#ff00ff" stroke-width="3" d="M443.5 495.2h27.0"/>
<path fill="none" stroke="#858510" stroke-width="2.1" d="M441.0 590.9h32M457.0 576.4v29M441.0 576.4l32 29M441.0 605.4l32 -29"/>
<path fill="#000080" d="M457.0 670.0l17.5 16.5l-17.5 16.5l-17.5 -16.5z"/>
<text transform="matrix(1.1212 0 0 1 779.94 1781.50)" font-size="92">Potential/V (vs. Ag/AgCl)</text>
<g transform="translate(135.5 0) rotate(-90) scale(1 1.1)"><text x="-1129.01" y="0.00" font-size="98">(C</text><text x="-1029.45" y="-42.55" font-size="67">-2</text><text x="-978.36" y="0.00" font-size="98">)x10</text><text x="-803.23" y="-42.55" font-size="67">7</text><text x="-768.71" y="0.00" font-size="98">(cm</text><text x="-614.72" y="-42.55" font-size="67">4</text><text x="-582.74" y="0.00" font-size="98">/F</text><text x="-500.51" y="-42.55" font-size="67">2</text><text x="-468.16" y="0.00" font-size="98">)</text></g>
</svg></body></html>
